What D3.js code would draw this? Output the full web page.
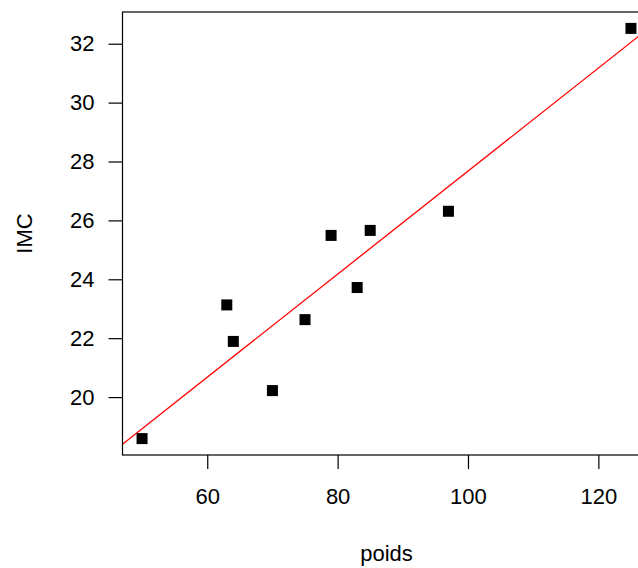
<!DOCTYPE html>
<html>
<head>
<meta charset="utf-8">
<script src="https://cdn.jsdelivr.net/npm/d3@7"></script>
<style>
  body { margin: 0; background: #fff; }
  text { font-family: "Liberation Sans", Arial, sans-serif; }
</style>
</head>
<body>
<div id="chart"></div>
<script>
'use strict';

// data
var poids = [50, 63, 64, 70, 75, 79, 83, 85, 97, 125];
var imc = [18.59, 23.13, 21.89, 20.22, 22.63, 25.49, 23.72, 25.66, 26.31, 32.52];
var xTicks = [60, 80, 100, 120];
var yTicks = [20, 22, 24, 26, 28, 30, 32];

drawChart();

function drawChart() {
	var WIDTH = 638,
		HEIGHT = 568;
	var left = 122.5, right = 650.5, top = 12, bottom = 455;
	var FONT = '22px';

	// R style axis ranges: data range plus 4%
	function padded(vals) {
		var ext = d3.extent(vals), d = (ext[1] - ext[0]) * 0.04;
		return [ext[0] - d, ext[1] + d];
	}

	var x = d3.scaleLinear().domain(padded(poids)).range([left, right]);
	var y = d3.scaleLinear().domain(padded(imc)).range([bottom, top]);

	var svg = d3.select('#chart').append('svg')
		.attr('width', WIDTH)
		.attr('height', HEIGHT);

	svg.append('rect')
		.attr('width', WIDTH)
		.attr('height', HEIGHT)
		.attr('fill', '#fff');

	svg.append('clipPath')
		.attr('id', 'plotclip')
		.append('rect')
			.attr('x', left)
			.attr('y', top)
			.attr('width', right - left)
			.attr('height', bottom - top);

	// least squares fit, drawn like abline()
	var mx = d3.mean(poids), my = d3.mean(imc);
	var sxy = d3.sum(poids, function(v, i) { return (v - mx) * (imc[i] - my); });
	var sxx = d3.sum(poids, function(v) { return (v - mx) * (v - mx); });
	var slope = sxy / sxx, intercept = my - slope * mx;
	var dom = x.domain();

	svg.append('line')
		.attr('clip-path', 'url(#plotclip)')
		.attr('x1', x(dom[0]))
		.attr('y1', y(intercept + slope * dom[0]))
		.attr('x2', x(dom[1]))
		.attr('y2', y(intercept + slope * dom[1]))
		.attr('stroke', '#ff0000')
		.attr('stroke-width', 1.3);

	// points
	var size = 11;
	svg.append('g').selectAll('rect')
		.data(poids)
		.enter().append('rect')
			.attr('x', function(d) { return x(d) - size / 2; })
			.attr('y', function(d, i) { return y(imc[i]) - size / 2; })
			.attr('width', size)
			.attr('height', size)
			.attr('fill', '#000');

	// box
	svg.append('rect')
		.attr('x', left)
		.attr('y', top)
		.attr('width', right - left)
		.attr('height', bottom - top)
		.attr('fill', 'none')
		.attr('stroke', '#000')
		.attr('stroke-width', 1.2);

	// axes
	var xAxis = svg.append('g')
		.attr('transform', 'translate(0,' + bottom + ')')
		.call(d3.axisBottom(x).tickValues(xTicks).tickSize(14).tickPadding(19));
	var yAxis = svg.append('g')
		.attr('transform', 'translate(' + left + ',0)')
		.call(d3.axisLeft(y).tickValues(yTicks).tickSize(14).tickPadding(14));

	[xAxis, yAxis].forEach(function(g) {
		g.select('.domain').remove();
		g.selectAll('line').attr('stroke', '#000').attr('stroke-width', 1.2);
		g.selectAll('text')
			.attr('fill', '#000')
			.style('font-size', FONT)
			.style('font-family', '"Liberation Sans", Arial, sans-serif');
	});

	// axis titles
	svg.append('text')
		.attr('x', (left + right) / 2)
		.attr('y', 561)
		.attr('text-anchor', 'middle')
		.style('font-size', FONT)
		.text('poids');

	svg.append('text')
		.attr('transform', 'translate(32,' + (top + bottom) / 2 + ') rotate(-90)')
		.attr('text-anchor', 'middle')
		.style('font-size', FONT)
		.text('IMC');
}
</script>
</body>
</html>
